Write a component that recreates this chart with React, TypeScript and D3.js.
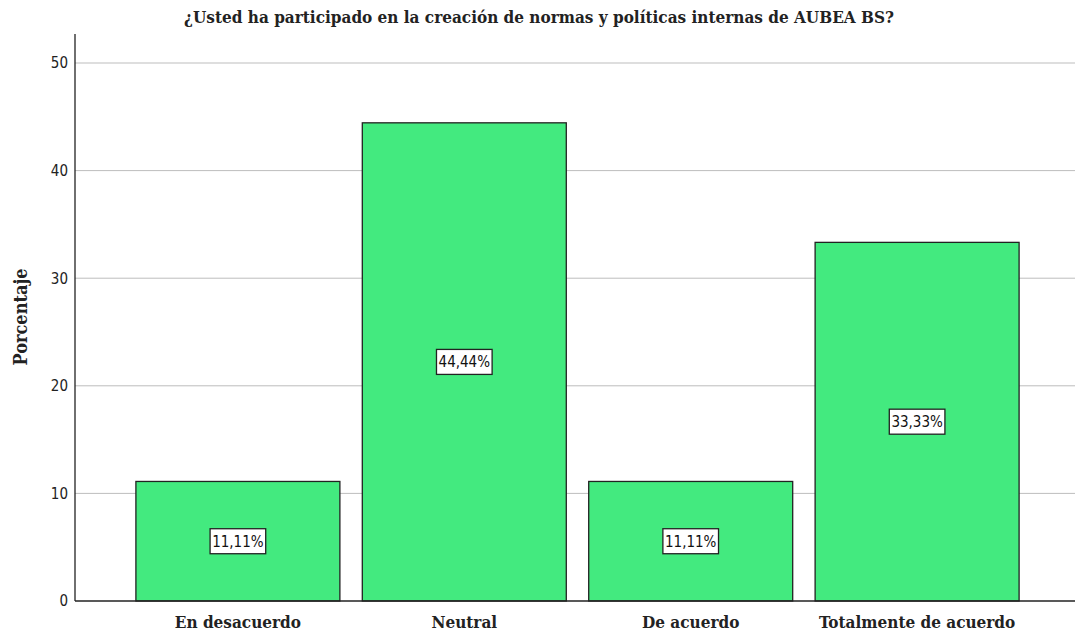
import React, { useEffect, useRef } from "react";
import * as d3 from "d3";

const categories = ["En desacuerdo", "Neutral", "De acuerdo", "Totalmente de acuerdo"];
const values = [11.11, 44.44, 11.11, 33.33];
const valueLabels = ["11,11%", "44,44%", "11,11%", "33,33%"];
const yTicks = [0, 10, 20, 30, 40, 50];
const title = "¿Usted ha participado en la creación de normas y políticas internas de AUBEA BS?";
const yLabel = "Porcentaje";

const W = 1075;
const H = 635;

export default function App() {
  const ref = useRef<SVGSVGElement>(null);

  useEffect(() => {
    const svg = d3.select(ref.current);
    svg.selectAll("*").remove();

    const left = 75, right = 1075, top = 34, bottom = 601;
    const y = d3.scaleLinear().domain([0, 50]).range([bottom, 63]);
    const x = d3.scaleBand<string>().domain(categories).range([left, 1080]).paddingInner(0.099).paddingOuter(0.269);

    const serif = "'DejaVu Serif Condensed', 'DejaVu Serif', serif";
    const cond = "'DejaVu Sans Condensed', 'DejaVu Sans', sans-serif";

    svg.append("g").selectAll("line").data(yTicks.filter(t => t > 0)).join("line")
      .attr("x1", left).attr("x2", right)
      .attr("y1", d => y(d)).attr("y2", d => y(d))
      .attr("stroke", "#bdbdbd").attr("stroke-width", 1);

    svg.append("g").selectAll("rect").data(values).join("rect")
      .attr("x", (_, i) => x(categories[i])!)
      .attr("y", d => y(d))
      .attr("width", x.bandwidth())
      .attr("height", d => bottom - y(d))
      .attr("fill", "#43EA7F")
      .attr("stroke", "#222").attr("stroke-width", 1.3);

    svg.append("line").attr("x1", left).attr("x2", left).attr("y1", top).attr("y2", bottom)
      .attr("stroke", "#222").attr("stroke-width", 1.3);
    svg.append("line").attr("x1", left).attr("x2", right).attr("y1", bottom).attr("y2", bottom)
      .attr("stroke", "#222").attr("stroke-width", 1.3);

    svg.append("g").selectAll("text").data(yTicks).join("text")
      .attr("x", 68).attr("y", d => y(d))
      .attr("dy", "0.36em")
      .attr("text-anchor", "end")
      .attr("font-family", cond)
      .attr("font-size", 15).attr("fill", "#222")
      .text(d => d);

    svg.append("g").selectAll("text").data(categories).join("text")
      .attr("x", d => x(d)! + x.bandwidth() / 2).attr("y", 628)
      .attr("text-anchor", "middle")
      .attr("font-family", serif).attr("font-weight", "bold")
      .attr("font-size", 17).attr("fill", "#222")
      .text(d => d);

    const lg = svg.append("g");
    values.forEach((v, i) => {
      const cx = x(categories[i])! + x.bandwidth() / 2;
      const cy = y(v / 2);
      const g = lg.append("g");
      const rect = g.append("rect").attr("fill", "#fff").attr("stroke", "#222").attr("stroke-width", 1.3);
      const t = g.append("text")
        .attr("x", cx).attr("y", cy).attr("dy", "0.36em")
        .attr("text-anchor", "middle")
        .attr("font-family", cond)
        .attr("font-size", 15).attr("fill", "#111")
        .text(valueLabels[i]);
      const bb = (t.node() as SVGTextElement).getBBox();
      const w = Math.max(bb.width + 4, 10);
      rect.attr("x", cx - w / 2).attr("y", cy - 12.5).attr("width", w).attr("height", 25);
    });

    svg.append("text").attr("x", 539).attr("y", 23)
      .attr("text-anchor", "middle")
      .attr("font-family", serif).attr("font-weight", "bold")
      .attr("font-size", 17).attr("fill", "#222")
      .text(title);

    svg.append("text")
      .attr("transform", `translate(27, 317) rotate(-90)`)
      .attr("text-anchor", "middle")
      .attr("font-family", serif).attr("font-weight", "bold")
      .attr("font-size", 18).attr("fill", "#222")
      .text(yLabel);
  }, []);

  return (
    <svg ref={ref} width={W} height={H} style={{ position: "absolute", left: 0, top: 0, background: "#fff" }} />
  );
}
